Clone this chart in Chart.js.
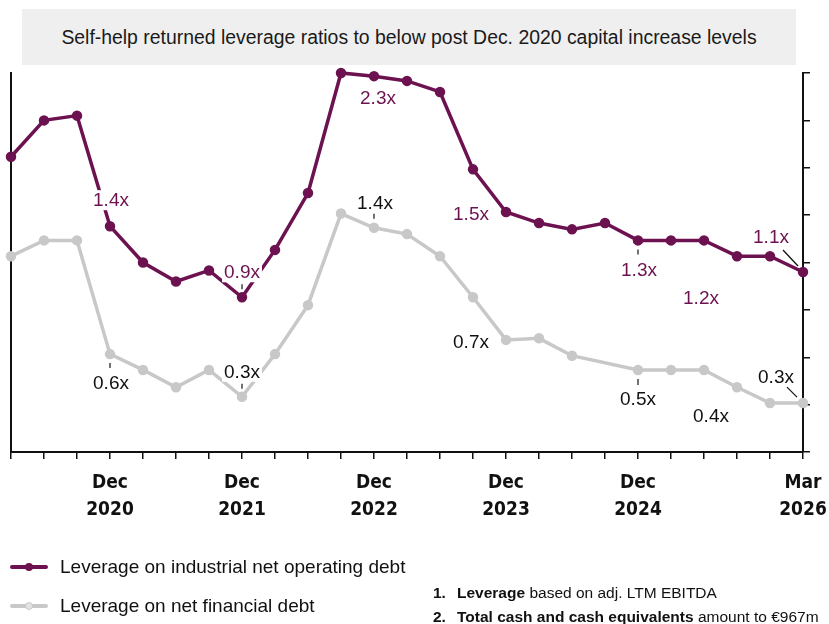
<!DOCTYPE html>
<html>
<head>
<meta charset="utf-8">
<script src="https://cdn.jsdelivr.net/npm/chart.js@4.4.1/dist/chart.umd.min.js"></script>
<style>
  html, body { margin: 0; padding: 0; background: #fff; }
  body { width: 829px; height: 624px; position: relative; overflow: hidden; font-family: 'Liberation Sans', Arial, sans-serif; color: #111; }
  #wrap { position: absolute; left: 0; top: 0; width: 829px; height: 624px; }
  #title { position: absolute; left: 22px; top: 9px; width: 774px; height: 56px; background: #efefef;
           font-size: 19.4px; line-height: 56px; text-align: center; color: #1a1a1a; }
  .leg { position: absolute; left: 10px; height: 20px; font-size: 19px; line-height: 20px; }
  .leg .ln { position: absolute; left: 0; top: 8px; width: 38px; height: 4px; border-radius: 2px; }
  .leg .dot { position: absolute; left: 15px; top: 6px; width: 8px; height: 8px; border-radius: 50%; }
  .leg span.txt { position: absolute; left: 50px; top: 0; white-space: nowrap; }
  #notes { position: absolute; left: 433px; top: 581px; font-size: 15.5px; line-height: 24px; white-space: nowrap; }
  #notes b.n { display: inline-block; width: 24px; }
</style>
</head>
<body>
<div id="wrap"><canvas id="chart" width="829" height="624"></canvas></div>
<div id="title">Self-help returned leverage ratios to below post Dec. 2020 capital increase levels</div>
<div class="leg" style="top:557px"><div class="ln" style="background:#6d1250"></div><div class="dot" style="background:#6d1250"></div><span class="txt">Leverage on industrial net operating debt</span></div>
<div class="leg" style="top:596px"><div class="ln" style="background:#c8c8c8"></div><div class="dot" style="background:#e4e4e4;border:1px solid #c8c8c8;width:6px;height:6px"></div><span class="txt">Leverage on net financial debt</span></div>
<div id="notes">
  <div><b class="n">1.</b><b>Leverage</b> based on adj. LTM EBITDA</div>
  <div><b class="n">2.</b><b>Total cash and cash equivalents</b> amount to €967m</div>
</div>
<script>
// quarterly, Mar 2020 .. Mar 2026
const quarters = [
  'Mar 2020','Jun 2020','Sep 2020','Dec 2020',
  'Mar 2021','Jun 2021','Sep 2021','Dec 2021',
  'Mar 2022','Jun 2022','Sep 2022','Dec 2022',
  'Mar 2023','Jun 2023','Sep 2023','Dec 2023',
  'Mar 2024','Jun 2024','Sep 2024','Dec 2024',
  'Mar 2025','Jun 2025','Sep 2025','Dec 2025','Mar 2026'
];
// only these quarters get a tick label
const labelledQuarters = ['Dec 2020', 'Dec 2021', 'Dec 2022', 'Dec 2023', 'Dec 2024', 'Mar 2026'];
const industrialDebt = [1.87, 2.10, 2.13, 1.43, 1.20, 1.08, 1.15, 0.98, 1.28, 1.64, 2.40, 2.38, 2.35, 2.28,
                        1.79, 1.52, 1.45, 1.41, 1.45, 1.34, 1.34, 1.34, 1.24, 1.24, 1.14];
const financialDebt = [1.24, 1.34, 1.34, 0.62, 0.52, 0.41, 0.52, 0.35, 0.62, 0.93, 1.51, 1.42, 1.38, 1.24,
                       0.98, 0.71, 0.72, 0.61, null, 0.52, 0.52, 0.52, 0.41, 0.31, 0.31];
const yTicks = { min: 0, max: 2.4, step: 0.3 };

const PURPLE = '#6d1250';
const GREY = '#c8c8c8';

// value labels: dataset, point index, text, offset from point, optional leader line
const callouts = [
  { ds: 0, i: 3,  text: '1.4x', dx: 1,   dy: -26 },
  { ds: 0, i: 7,  text: '0.9x', dx: 0,   dy: -25, lead: [0, -13, 0, -8] },
  { ds: 0, i: 11, text: '2.3x', dx: 4,   dy: 22 },
  { ds: 0, i: 15, text: '1.5x', dx: -35, dy: 2 },
  { ds: 0, i: 19, text: '1.3x', dx: 1,   dy: 29, lead: [0, 9, 0, 14] },
  { ds: 0, i: 21, text: '1.2x', dx: -3,  dy: 57 },
  { ds: 0, i: 24, text: '1.1x', dx: -32, dy: -35, lead: [-20, -22, -5, -6] },
  { ds: 1, i: 3,  text: '0.6x', dx: 1,   dy: 29, lead: [0, 9, 0, 14] },
  { ds: 1, i: 7,  text: '0.3x', dx: 0,   dy: -25, lead: [0, -13, 0, -8] },
  { ds: 1, i: 11, text: '1.4x', dx: 1,   dy: -25, lead: [0, -14, 0, -9] },
  { ds: 1, i: 15, text: '0.7x', dx: -35, dy: 2 },
  { ds: 1, i: 19, text: '0.5x', dx: 0,   dy: 29, lead: [0, 9, 0, 15] },
  { ds: 1, i: 21, text: '0.4x', dx: 7,   dy: 46 },
  { ds: 1, i: 24, text: '0.3x', dx: -27, dy: -26, lead: [-16, -16, -6, -6] }
];

const calloutPlugin = {
  id: 'callouts',
  afterDatasetsDraw(chart) {
    const ctx = chart.ctx;
    ctx.save();
    ctx.font = '19px "Liberation Sans", Arial, sans-serif';
    ctx.textAlign = 'center';
    ctx.textBaseline = 'middle';
    callouts.forEach(c => {
      const pt = chart.getDatasetMeta(c.ds).data[c.i];
      const x = pt.x + c.dx, y = pt.y + c.dy;
      const w = ctx.measureText(c.text).width;
      ctx.fillStyle = '#fff';
      ctx.fillRect(x - w / 2 - 2, y - 10, w + 4, 20);
      ctx.fillStyle = c.ds === 0 ? PURPLE : '#111';
      ctx.fillText(c.text, x, y + 1);
      if (c.lead) {
        ctx.strokeStyle = '#111';
        ctx.lineWidth = 1.2;
        ctx.beginPath();
        ctx.moveTo(pt.x + c.lead[0], pt.y + c.lead[1]);
        ctx.lineTo(pt.x + c.lead[2], pt.y + c.lead[3]);
        ctx.stroke();
      }
    });
    ctx.restore();
  }
};

const tickFont = { family: '"Liberation Sans Narrow", "DejaVu Sans Condensed", sans-serif', size: 19, weight: 'bold', lineHeight: 1.42 };

new Chart(document.getElementById('chart'), {
  type: 'line',
  data: {
    labels: quarters,
    datasets: [
      { label: 'Leverage on industrial net operating debt', data: industrialDebt, borderColor: PURPLE, backgroundColor: PURPLE,
        borderWidth: 3.5, pointRadius: 3.5, pointHoverRadius: 3.5, clip: false, yAxisID: 'y' },
      { label: 'Leverage on net financial debt', data: financialDebt, borderColor: GREY, backgroundColor: GREY,
        borderWidth: 3.5, pointRadius: 3.5, pointHoverRadius: 3.5, spanGaps: true, clip: false, yAxisID: 'y' }
    ]
  },
  options: {
    responsive: false,
    animation: false,
    events: [],
    layout: { padding: { left: 11, right: 19, top: 73, bottom: 89 } },
    plugins: { legend: { display: false }, tooltip: { enabled: false } },
    scales: {
      x: {
        offset: false,
        grid: { display: true, drawOnChartArea: false, drawTicks: true, tickLength: 7, color: '#111', lineWidth: 1.5 },
        border: { display: true, color: '#111', width: 2 },
        ticks: {
          autoSkip: false, maxRotation: 0, minRotation: 0, padding: 11, color: '#111', font: tickFont,
          callback(v, i) {
            const l = quarters[i];
            return labelledQuarters.includes(l) ? l.split(' ') : '';
          }
        },
        // the last label may hang past the plot edge, as in the original
        afterFit(scale) { scale.paddingLeft = 0; scale.paddingRight = 0; }
      },
      y: {
        position: 'left', min: yTicks.min, max: yTicks.max,
        grid: { display: false, drawTicks: false, tickLength: 0 },
        border: { display: true, color: '#111', width: 2 },
        ticks: { display: false, stepSize: yTicks.step }
      },
      y2: {
        position: 'right', min: yTicks.min, max: yTicks.max,
        grid: { display: true, drawOnChartArea: false, drawTicks: true, tickLength: 7, color: '#111', lineWidth: 1.5 },
        border: { display: true, color: '#111', width: 2 },
        ticks: { display: false, stepSize: yTicks.step }
      }
    }
  },
  plugins: [calloutPlugin]
});
</script>
</body>
</html>
